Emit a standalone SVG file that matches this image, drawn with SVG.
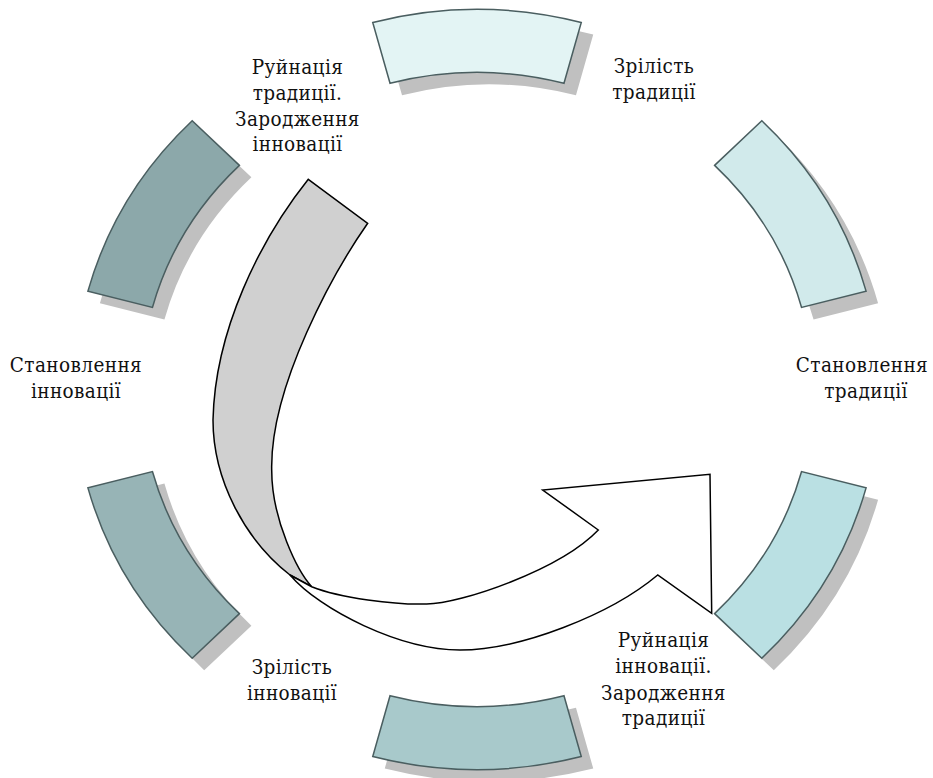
<svg xmlns="http://www.w3.org/2000/svg" width="933" height="778" viewBox="0 0 933 778">
<defs>
<style>
.seg{stroke:#4a5e60;stroke-width:1.5;stroke-linejoin:miter}
.sh{fill:#c0c0c0;stroke:none}
.arr{stroke:#000;stroke-width:1.5;stroke-linejoin:miter}
</style>
<path id="pTop" d="M372.75,22.45 A402.8,380 0 0 1 581.25,22.45 L563.97,83.3 A336.02,317 0 0 0 390.03,83.3 Z"/>
<path id="pUR" d="M761.82,120.8 A402.8,380 0 0 1 866.08,291.15 L801.57,307.45 A336.02,317 0 0 0 714.6,165.35 Z"/>
<path id="pLR" d="M866.08,487.85 A402.8,380 0 0 1 761.82,658.2 L714.6,613.65 A336.02,317 0 0 0 801.57,471.55 Z"/>
<path id="pBot" d="M581.25,756.55 A402.8,380 0 0 1 372.75,756.55 L390.03,695.7 A336.02,317 0 0 0 563.97,695.7 Z"/>
<path id="pLL" d="M192.18,658.2 A402.8,380 0 0 1 87.92,487.85 L152.43,471.55 A336.02,317 0 0 0 239.4,613.65 Z"/>
<path id="pUL" d="M87.92,291.15 A402.8,380 0 0 1 192.18,120.8 L239.4,165.35 A336.02,317 0 0 0 152.43,307.45 Z"/>
</defs>
<rect width="933" height="778" fill="#ffffff"/>

<g id="seg-top">
<use href="#pTop" class="sh" transform="translate(12,12)"/>
<use href="#pTop" class="seg" fill="#e3f4f4"/>
</g>
<g id="seg-upper-right">
<use href="#pUR" class="sh" transform="translate(12,12)"/>
<use href="#pUR" class="seg" fill="#d1eaeb"/>
</g>
<g id="seg-lower-right">
<use href="#pLR" class="sh" transform="translate(12,12)"/>
<use href="#pLR" class="seg" fill="#bae0e3"/>
</g>
<g id="seg-bottom">
<use href="#pBot" class="sh" transform="translate(12,12)"/>
<use href="#pBot" class="seg" fill="#a8c9cb"/>
</g>
<g id="seg-lower-left">
<use href="#pLL" class="sh" transform="translate(12,12)"/>
<use href="#pLL" class="seg" fill="#97b4b6"/>
</g>
<g id="seg-upper-left">
<use href="#pUL" class="sh" transform="translate(12,12)"/>
<use href="#pUL" class="seg" fill="#8ca8aa"/>
</g>

<g id="connectors">
<path class="arr" fill="#d0d0d0" d="M308.3,179.3 L367.7,223.3 C335,270 270,385 271.7,470 C271.7,520 298,572 311.7,586.7 L290,575 C245,540 213,480 213,420 C215,330 260,240 308.3,179.3 Z"/>
<path class="arr" fill="#ffffff" d="M290,575 C320,610 400,650 460,650 C520,650 610,615 657.7,575 L711.7,613.3 L710,474.3 L542.7,490 L598.3,530 C560,570 460,604 426.7,604 C395,605 340,598 311.7,586.7 Z"/>
</g>

<g id="labels" font-family="'DejaVu Serif Condensed', 'DejaVu Serif', serif" font-stretch="condensed" font-size="20.5" letter-spacing="0.4" fill="#111" text-anchor="middle">
<g id="label-destruction-tradition">
<text x="297.5" y="73.5">Руйнація</text>
<text x="297.5" y="99.5">традиції.</text>
<text x="297.5" y="125.5">Зародження</text>
<text x="297.5" y="151">інновації</text>
</g>
<g id="label-maturity-tradition">
<text x="654" y="73">Зрілість</text>
<text x="654" y="99">традиції</text>
</g>
<g id="label-formation-tradition">
<text x="862" y="372">Становлення</text>
<text x="866" y="398">традиції</text>
</g>
<g id="label-formation-innovation">
<text x="76" y="372">Становлення</text>
<text x="76" y="398">інновації</text>
</g>
<g id="label-maturity-innovation">
<text x="292" y="674">Зрілість</text>
<text x="292" y="700">інновації</text>
</g>
<g id="label-destruction-innovation">
<text x="663.5" y="647">Руйнація</text>
<text x="663.5" y="673">інновації.</text>
<text x="663.5" y="699.5">Зародження</text>
<text x="663.5" y="725">традиції</text>
</g>
</g>
</svg>
